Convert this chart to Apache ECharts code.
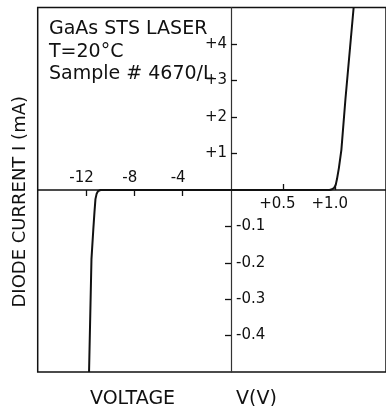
<!DOCTYPE html>
<html>
<head>
<meta charset="utf-8">
<script src="https://cdn.jsdelivr.net/npm/echarts@6/dist/echarts.min.js"></script>
<style>
  html, body { margin: 0; padding: 0; background: #fff; }
  #chart { width: 386px; height: 406px; }
</style>
</head>
<body>
<div id="chart"></div>
<script>
// forward branch (V in volts, I in mA)
const fwdV = [0, 0.94, 0.965, 0.985, 1.0, 1.012, 1.03, 1.054, 1.093, 1.171];
const fwdI = [0, 0, 0.02, 0.06, 0.14, 0.3, 0.6, 1.1, 2.5, 5.0];
// reverse branch (V in volts, I in mA)
const revV = [0, -10.8, -11.0, -11.12, -11.22, -11.3, -11.4, -11.55, -11.75];
const revI = [0, 0, -0.003, -0.01, -0.025, -0.06, -0.11, -0.19, -0.5];

const fwdXTicks = [0.5, 1.0];
const fwdYTicks = [1, 2, 3, 4];
const revXTicks = [-12, -8, -4];
const revYTicks = [-0.1, -0.2, -0.3, -0.4];

const noteLines = ["GaAs STS LASER", "T=20°C", "Sample # 4670/L"];

const FONT = "DejaVu Sans";
const INK = "#111";

const chart = echarts.init(document.getElementById("chart"));

const pair = (xs, ys) => xs.map((x, i) => [x, ys[i]]);

const hidden = {
  axisLine: { show: false },
  axisTick: { show: false },
  axisLabel: { show: false },
  splitLine: { show: false },
};

const option = {
  backgroundColor: "#fff",
  animation: false,
  title: [
    {
      text: noteLines.join("\n"),
      left: 44,
      top: 13,
      textStyle: { fontFamily: FONT, fontSize: 19, fontWeight: "normal", color: INK, lineHeight: 22.5 },
    },
    {
      text: "VOLTAGE",
      left: 85,
      top: 385,
      textStyle: { fontFamily: FONT, fontSize: 19, fontWeight: "normal", color: INK },
    },
    {
      text: "V(V)",
      left: 231,
      top: 385,
      textStyle: { fontFamily: FONT, fontSize: 19, fontWeight: "normal", color: INK },
    },
  ],
  grid: [
    // outer frame
    { left: 37.7, top: 7.5, right: -6, bottom: 34, show: true, borderColor: INK, borderWidth: 1.5, backgroundColor: "transparent" },
    // forward quadrant (top right)
    { left: 231, top: 7.5, right: 0, height: 182.5 },
    // reverse quadrant (bottom left)
    { left: 37.7, top: 190, width: 193.3, height: 182 },
  ],
  xAxis: [
    Object.assign({ gridIndex: 0, type: "value", min: 0, max: 1 }, hidden),
    {
      gridIndex: 1,
      type: "value",
      position: "bottom",
      min: 0,
      max: 1.48,
      interval: 0.5,
      axisLine: { lineStyle: { color: INK, width: 1.6 } },
      axisTick: { inside: true, length: 6, customValues: fwdXTicks, lineStyle: { color: INK, width: 1.3 } },
      axisLabel: {
        customValues: fwdXTicks,
        margin: 7,
        padding: [0, 12, 0, 0],
        fontFamily: FONT,
        fontSize: 15,
        color: INK,
        formatter: (v) => "+" + v.toFixed(1),
      },
      splitLine: { show: false },
    },
    {
      gridIndex: 2,
      type: "value",
      position: "top",
      min: -16,
      max: 0,
      interval: 4,
      axisLine: { lineStyle: { color: INK, width: 1.6 } },
      axisTick: { inside: true, length: 6, customValues: revXTicks, lineStyle: { color: INK, width: 1.3 } },
      axisLabel: {
        customValues: revXTicks,
        margin: 4,
        padding: [0, 9, 0, 0],
        fontFamily: FONT,
        fontSize: 15,
        color: INK,
        formatter: (v) => String(v),
      },
      splitLine: { show: false },
    },
  ],
  yAxis: [
    Object.assign({
      gridIndex: 0,
      type: "value",
      min: 0,
      max: 1,
      name: "DIODE CURRENT I (mA)",
      nameLocation: "middle",
      nameGap: 8,
      nameTextStyle: { fontFamily: FONT, fontSize: 18, color: INK, padding: [0, 24, 0, 0] },
    }, hidden),
    {
      gridIndex: 1,
      type: "value",
      position: "left",
      min: 0,
      max: 5,
      interval: 1,
      axisLine: { lineStyle: { color: "#333", width: 1.2 } },
      axisTick: { inside: true, length: 6, customValues: fwdYTicks, lineStyle: { color: INK, width: 1.3 } },
      axisLabel: {
        customValues: fwdYTicks,
        margin: 4,
        fontFamily: FONT,
        fontSize: 15,
        color: INK,
        formatter: (v) => "+" + v,
      },
      splitLine: { show: false },
    },
    {
      gridIndex: 2,
      type: "value",
      position: "right",
      min: -0.5,
      max: 0,
      interval: 0.1,
      axisLine: { lineStyle: { color: "#333", width: 1.2 } },
      axisTick: { inside: true, length: 6, customValues: revYTicks, lineStyle: { color: INK, width: 1.3 } },
      axisLabel: {
        customValues: revYTicks,
        margin: 5,
        fontFamily: FONT,
        fontSize: 15,
        color: INK,
        formatter: (v) => v.toFixed(1),
      },
      splitLine: { show: false },
    },
  ],
  series: [
    {
      type: "line",
      xAxisIndex: 1,
      yAxisIndex: 1,
      data: pair(fwdV, fwdI),
      showSymbol: false,
      lineStyle: { color: INK, width: 2 },
    },
    {
      type: "line",
      xAxisIndex: 2,
      yAxisIndex: 2,
      data: pair(revV, revI),
      showSymbol: false,
      lineStyle: { color: INK, width: 2 },
    },
  ],
};

chart.setOption(option);
</script>
</body>
</html>
